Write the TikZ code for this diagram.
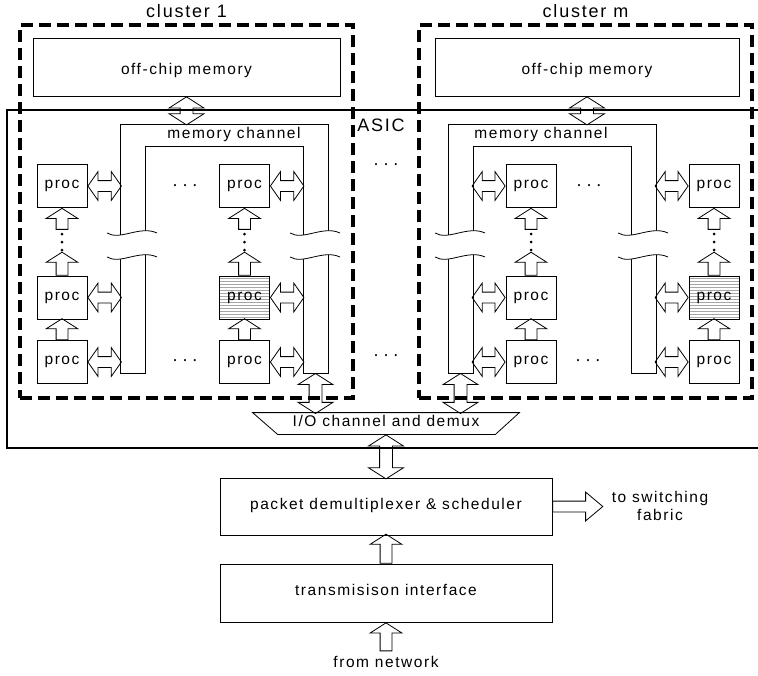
\documentclass[tikz,border=0pt]{standalone}
\usepackage{fontspec}
\setmainfont{Liberation Sans}[LetterSpace=10]
\usepackage{tikz}
\usetikzlibrary{shapes.arrows,patterns}
\newcommand\mdots{\textperiodcentered\hspace{4pt}\textperiodcentered\hspace{4pt}\textperiodcentered}
\newcommand\chanbreak[2]{%
 \fill[white] (#1,233) .. controls (#1+13,241) and (#2-17,225) .. (#2,233) -- (#2,257) .. controls (#2-17,249) and (#1+13,265) .. (#1,257) -- cycle;
 \draw (#1,233) .. controls (#1+13,241) and (#2-17,225) .. (#2,233) (#1,257) .. controls (#1+13,265) and (#2-17,249) .. (#2,257);}

\begin{document}
\begin{tikzpicture}[x=1pt,y=-1pt,line width=.8pt,
 every node/.style={font=\fontsize{15.5}{18}\selectfont},
 big/.style={font=\fontsize{18}{20}\selectfont},
 lbl/.style={inner sep=0pt, text height=1ex, text depth=0pt},
 proc/.style={lbl, draw, minimum width=50pt, minimum height=43pt},
 wide/.style={lbl, draw, minimum width=#1, minimum height=58pt},
 hatch/.style={pattern=horizontal lines, pattern color=gray!70},
 clus/.style={draw, line width=3.3pt, dash pattern=on 12pt off 6pt, minimum width=333pt, minimum height=373pt},
 vfat/.style={double arrow, draw, inner xsep=0pt, inner ysep=6pt, double arrow head extend=11pt, double arrow tip angle=115, rotate=-90, anchor=west, minimum height=#1},
 hfat/.style={double arrow, draw, inner xsep=0pt, inner ysep=5pt, double arrow head extend=9pt, double arrow tip angle=110, minimum height=#1},
 upfat/.style={single arrow, draw, inner xsep=0pt, inner ysep=5.5pt, single arrow head extend=10pt, single arrow tip angle=115, rotate=90, minimum height=#1}]
\useasboundingbox (0,0) rectangle (758,675);

\draw[line width=1.8pt] (758,110) -- (7,110) -- (7,448) -- (758,448);
\node[lbl, big] (asic) at (381,129) {ASIC};

\node[clus] (cl1) at (186.5,211.5) {};
\node[clus] (clm) at (585.5,211.5) {};
\node[lbl, big] at (186.5,14.5) {cluster 1};
\node[lbl, big] at (585.5,14.5) {cluster m};

\node[wide=307pt, text height=14pt] (mem1) at (186.5,67) {off-chip memory};
\node[wide=304pt, text height=14pt] (memm) at (587,67) {off-chip memory};

\draw (120,373) -- (120,124) -- (328,124) -- (328,373) -- (303,373) -- (303,146) -- (145,146) -- (145,373) -- cycle;
\draw (448,373) -- (448,124) -- (656,124) -- (656,373) -- (631,373) -- (631,146) -- (473,146) -- (473,373) -- cycle;
\node[lbl] at (234,136) {memory channel};
\node[lbl] at (541,136) {memory channel};
\chanbreak{107}{157}
\chanbreak{290}{340}
\chanbreak{435}{485}
\chanbreak{618}{668}

\node[vfat=28pt] at (mem1.south) {};
\node[vfat=28pt] at (memm.south) {};

\foreach \c/\x in {1a/62, ma/531} \node[proc] (c\c2) at (\x,297.5) {proc};
\foreach \c/\x in {1b/244.5, mb/714} \node[proc, hatch] (c\c2) at (\x,297.5) {proc};
\foreach \c/\x in {1a/62, 1b/244.5, ma/531, mb/714} {
 \node[proc] (c\c1) at (\x,186) {proc};
 \node[proc] (c\c3) at (\x,362) {proc};
 \node[upfat=21pt, anchor=tip] at (c\c1.south) {};
 \node[upfat=23pt, anchor=tail] at (c\c2.north) {};
 \node[upfat=21pt, anchor=tail] at (c\c3.north) {};
 \foreach \y in {234,242,250} \fill (\x,\y) circle (1.5pt);
}

\foreach \c in {1a,1b} \foreach \r in {1,2,3} \node[hfat=33.5pt, anchor=west] at (c\c\r.east) {};
\foreach \c in {ma,mb} \foreach \r in {1,2,3} \node[hfat=33pt, anchor=east] at (c\c\r.west) {};

\node[lbl, big] at (185,188) {\mdots};
\node[lbl, big] at (185,363) {\mdots};
\node[lbl, big] at (589,188) {\mdots};
\node[lbl, big] at (588,363) {\mdots};
\node[lbl, big] at (386,167) {\mdots};
\node[lbl, big] at (386,358) {\mdots};

\coordinate (ch1) at (315.5,373);
\coordinate (chm) at (460.5,373);
\node[lbl, minimum width=266pt, minimum height=21pt] (io) at (386,423.5) {I/O channel and demux};
\draw (io.north west) -- (io.north east) -- ([xshift=-24pt]io.south east) -- ([xshift=25pt]io.south west) -- cycle;
\node[vfat=40pt] at (ch1) {};
\node[vfat=40pt] at (chm) {};

\node[wide=332pt, minimum height=57pt] (pkt) at (386,506.5) {packet demultiplexer \& scheduler};
\node[wide=332pt] (trans) at (386,593) {transmisison interface};
\node[vfat=44pt] at (io.south) {};
\node[upfat=29pt, anchor=tail] at (trans.north) {};
\node[upfat=28pt, anchor=tip] at (trans.south) {};
\node[lbl] (net) at (386,665) {from network};
\node[single arrow, draw, inner xsep=0pt, inner ysep=5pt, single arrow head extend=9pt, single arrow tip angle=80, minimum height=50pt, anchor=tail] at (pkt.east) {};
\node[align=center, inner sep=0pt] (fab) at (660,506) {to switching\\fabric};
\end{tikzpicture}
\end{document}
